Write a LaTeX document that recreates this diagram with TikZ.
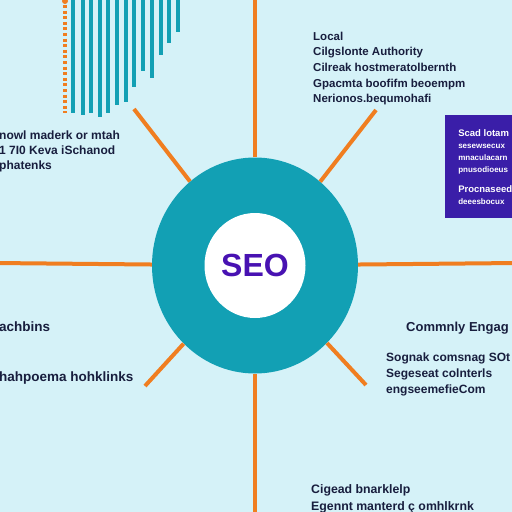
\documentclass[tikz,border=0pt]{standalone}
\usepackage{fontspec}
\setmainfont{Liberation Sans}
\usepackage{tikz}
\usetikzlibrary{positioning, shapes}

\definecolor{bgcyan}{RGB}{213,242,248}
\definecolor{hubteal}{RGB}{18,160,180}
\definecolor{spokeorange}{RGB}{240,126,32}
\definecolor{inknavy}{RGB}{24,30,62}
\definecolor{seopurple}{RGB}{72,18,178}
\definecolor{boxindigo}{RGB}{58,30,168}

\begin{document}
\begin{tikzpicture}[x=1pt, y=-1pt,
  spoke/.style   = {draw=spokeorange, line width=4pt},
  barline/.style = {draw=hubteal, line width=4.5pt},
  note/.style    = {text=inknavy, align=left, inner sep=0pt, anchor=north west, font=\bfseries\fontsize{13.5}{15}\selectfont},
  hub/.style     = {ellipse, fill=hubteal, minimum width=206pt, minimum height=216pt, inner sep=0pt},
  core/.style    = {ellipse, fill=white, minimum width=101pt, minimum height=105pt, inner sep=0pt, text=seopurple, font=\bfseries\fontsize{32}{32}\selectfont},
  infobox/.style = {rectangle, fill=boxindigo, text=white, align=left, anchor=north west, minimum width=80pt, minimum height=103pt, inner xsep=6pt, font=\bfseries\fontsize{8}{12}\selectfont}
]

\useasboundingbox (0,0) rectangle (512,512);
\clip (0,0) rectangle (512,512);
\fill [bgcyan] (0,0) rectangle (512,512);

\foreach \x/\y in {73/113, 83/115, 91/113, 100/117, 108/113, 117/105, 126/102, 134/87, 143/71, 152/78, 161/55, 169/43, 178/32}
  \draw [barline] (\x,-3) -- (\x,\y);
\draw [spokeorange, line width=3.4pt, dash pattern=on 3pt off 2.6pt] (65,5) -- (65,113);
\fill [spokeorange] (65,1) circle (3);

\node [hub ] (hub)  at (255,265.5) {};
\node [core] (core) at (hub)       {SEO};

\coordinate (endN)  at (255,-5);
\coordinate (endS)  at (255,517);
\coordinate (endW)  at (-5,263);
\coordinate (endE)  at (517,263);
\coordinate (endNW) at (134,109);
\coordinate (endNE) at (376,110);
\coordinate (endSW) at (145,386);
\coordinate (endSE) at (366,385);

\path [spoke] (hub) -- (endN);
\path [spoke] (hub) -- (endS);
\path [spoke] (hub) -- (endW);
\path [spoke] (hub) -- (endE);
\path [spoke] (hub) -- (endNW);
\path [spoke] (hub) -- (endNE);
\path [spoke] (hub) -- (endSW);
\path [spoke] (hub) -- (endSE);

\node [note, font=\bfseries\fontsize{11.5}{15.7}\selectfont] (local) at (313,31.5) {Local\\Cilgslonte Authority\\Cilreak hostmeratolbernth\\Gpacmta boofifm beoempm\\Nerionos.bequmohafi};
\node [note, font=\bfseries\fontsize{12}{15}\selectfont] (mowl) at (-1,130.5) {nowl maderk or mtah\\1 7I0 Keva iSchanod\\phatenks};
\node [note, anchor=west] (achb) at (-1,327) {achbins};
\node [note, anchor=west] (hahp) at (-1,378) {hahpoema hohklinks};
\node [note, anchor=west, font=\bfseries\fontsize{13}{16}\selectfont] (comm) at (406,328) {Commnly Engag};
\node [note, font=\bfseries\fontsize{12}{16}\selectfont] (sogn) at (386,352.5) {Sognak comsnag SOt\\Segeseat colnterls\\engseemefieCom};
\node [note, font=\bfseries\fontsize{12.3}{17}\selectfont] (cige) at (311,484) {Cigead bnarklelp\\Egennt manterd ç omhlkrnk};
\node [infobox] (social) at (445,115) {\fontsize{9.5}{13}\selectfont Scad lotam\\sesewsecux\\mnaculacarn\\pnusodioeus\\[8pt]\fontsize{9.5}{13}\selectfont Procnaseed\\deeesbocux};

\end{tikzpicture}
\end{document}
